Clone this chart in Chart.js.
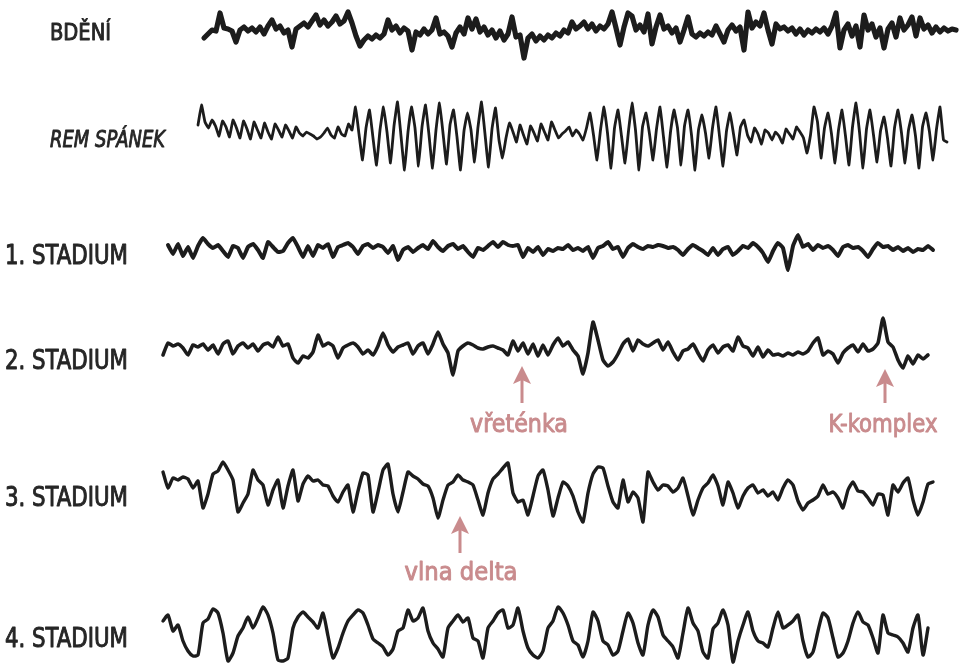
<!DOCTYPE html>
<html>
<head>
<meta charset="utf-8">
<script src="https://cdn.jsdelivr.net/npm/chart.js@4.4.1/dist/chart.umd.min.js"></script>
<style>
  html, body { margin: 0; padding: 0; background: #fff; }
  #c { display: block; }
</style>
</head>
<body>
<canvas id="c" width="961" height="665"></canvas>
<script>
// ─── Data: EEG traces, deflection from each row's baseline (up = positive) ──
const bdeniValues = [
  -6,-2,2,1,19,4, 3,1,-10,2,5,1,4,0, 5,-2,6,12,3,6,-1,2, -15,3,
  6,9,5,11,17,7,12,6,10,16,8,11,20,9, -4,-14,-8,-4,-7,-3,-6,-2,
  12,2,6,-1,4,1, -18,0,-3,3,-2, 2,14,-2,0, -4,-15,-1,
  5,-2,14,3,13,0,5,-3, 2,-6,1,-8,-2,15,-5, -3,-26,-6,
  -2,-9,-4,-8,-3,-6,-1, -4,2,-1,10,3,
  6,10,3,8,1,6, 3,8,20,4,-13,5,19,16,2,7,0,18,-12,5,17,3,
  6,-1,4,-10,2,15,-2, -5,-1,-4,0, -3,6,-2,-10,2, 7,1,5,-18,20,4,
  10,6,19,2,-12,8,3, 5,1,4,-2,3,-3,2,-1,3,0,4,-2, 6,19,-16,2,
  8,-4,6,-15,17,2,8,-5,4,-16,3, 9,-5,14,2,7,15,-4,14,3, 7,-1,5,0,4,1,3,2
];

const remValues = [
  5,25,8,2,10,4,-6,9,3,-7,10,2,-8,9,1,-9,8,0,-8,7,-2,-9,6,0,-7,5,-1,-8,3,-3,
  -6,-2,-4,-6,-9,-7,-3,2,-5,-8,3,-4,-6,6,0,
  23,-4,-30,2, 20,-8,-35,0, 23,-2,-33,4, 28,-6,-40,-2, 23,2,-36,3, 25,-5,-38,0,
  27,-3,-34,5, 20,-7,-40,-1, 17,0,-32,3, 28,-4,-37,1, 22,-10,-28,
  -8,7,-2,-12,5,-5,-14,4,-3,-11,6,-2,-10,8,0,-8,-4,-1,3,-6,0,-4,-10,2,
  17,-5,-30,0, 23,-3,-38,2, 20,-6,-33,-1, 27,0,-40,3, 17,-4,-30,1, 23,-7,-37,-2,
  20,2,-35,4, 20,-5,-40,0, 15,-3,-28,2, 23,-6,-36,-1, 17,-4,-25,
  3,10,-5,-12,2,-4,-14,0,-3,-10,-2,-6,-13,1,-4,-9,3,-2,-8,-23,-5,
  23,8,-28,2, 17,-4,-33,0, 20,-6,-35,3, 27,-2,-38,1, 20,-5,-32,-1, 13,-8,-36,2,
  20,-3,-33,0, 15,-6,-38,3, 17,-2,-30,1, 23,-10,-12
];

const stage1Values = [
  4,-5,5,-7,2,-9,3,11,5,1,4,-2,-8,3,1,-9,2,5,-1,-9,7,2,-3,-2,6,11,2,-8,3,-7,
  4,1,5,-8,2,4,6,2,-5,3,5,1,4,2,-4,3,-11,-1,2,-3,1,4,0,8,2,-2,3,5,0,3,
  -3,-8,1,-1,3,7,2,7,4,3,4,-8,1,-3,2,-6,0,-2,1,0,4,-1,1,-2,2,-9,1,3,7,0,
  2,-8,1,5,2,0,3,2,4,3,1,2,-1,-6,0,4,1,-2,-6,1,-6,0,2,-6,-2,3,1,6,2,-4,
  -13,-2,6,1,-21,3,14,2,5,-1,4,1,3,-1,-7,2,4,1,2,-2,-8,0,6,2,3,-1,2,-2,1,-3,
  0,-1,3,-1
];

const stage2Values = [
  -7,5,2,4,0,-7,3,1,4,-2,3,-6,4,7,-6,2,5,0,4,-3,3,5,1,11,2,4,-10,-15,-8,-10,
  -4,13,2,5,2,-10,0,3,5,1,-6,-2,-7,2,15,3,-4,1,3,5,-6,2,5,-6,4,16,4,-5,-27,-3,
  2,5,3,0,-1,1,2,0,-2,-7,7,-3,5,-6,4,-8,3,-7,
  3,10,2,6,-2,-8,-26,-5,26,8,-12,-18,-14,-6,4,9,-3,8,4,2,5,8,-2,6,-4,-12,-3,-1,4,-5,
  -13,-2,3,-5,1,3,-3,11,2,0,-8,1,-9,-2,-7,-6,-8,-5,-7,-4,-6,-3,5,10,-7,-3,-6,-15,-5,0,
  3,-4,4,-3,-1,5,30,6,1,-12,-20,-8,-16,-7,-11,-7
];

const stage3Values = [
  16,0,10,8,11,9,0,7,-20,-6,14,17,26,18,8,-24,-15,-6,18,8,3,-17,-2,8,-20,2,18,-13,4,12,
  7,8,3,2,-8,-14,-4,3,-24,-3,15,13,-24,-4,18,24,-6,-24,-4,16,12,9,4,2,-10,-30,-12,3,6,13,
  8,6,3,-12,-27,-5,9,14,20,25,-5,-14,-12,-27,-8,12,18,-2,
  -28,-10,6,2,-8,-24,-34,-5,14,21,20,2,-14,-20,8,-14,-4,-10,-34,16,6,-2,3,2,-4,0,10,-8,-27,-12,
  0,5,13,2,-17,6,-5,-20,-8,0,3,-5,-2,-8,-4,-12,0,8,3,-13,-22,-15,-12,-8,3,-6,-4,-10,-20,-2,
  6,-3,-4,-10,-17,-6,-7,-27,3,-4,5,10,-12,-27,-14,4,6
];

const stage4Values = [
  12,18,2,8,-8,-18,-23,-22,10,14,24,20,0,-28,-20,-3,5,16,5,15,26,18,0,-27,-28,-25,5,16,21,16,
  11,5,20,-3,-25,-15,0,12,18,23,20,8,-6,-10,-14,-22,-16,2,5,23,12,15,25,2,-10,-16,-24,5,12,18,
  11,15,-5,-8,-25,5,12,20,23,5,8,25,2,-15,-22,-25,-18,5,
  12,26,20,8,-8,-12,-24,-8,21,12,-8,-12,-22,-18,2,20,10,-10,-22,8,23,16,-2,-8,-14,-25,0,25,10,2,
  -19,-25,4,10,23,8,-29,-8,8,21,2,-8,-10,-14,5,21,5,8,12,18,-8,-24,-19,2,20,15,-5,-24,-20,-8,
  10,21,11,8,-5,-20,18,0,-2,-4,-10,-19,5,18,-22,5
];

const rowLabels = ['BDĚNÍ', 'REM SPÁNEK', '1. STADIUM', '2. STADIUM', '3. STADIUM', '4. STADIUM'];
const noteLabels = ['vřeténka', 'K-komplex', 'vlna delta'];

// ─── Layout (page pixels) ───────────────────────────────────────────────────
const INK = '#1c1c1c';
const PINK = '#c98b8d';

const rows = [
  { values: bdeniValues,  x0: 204, x1: 956, base: 32,  width: 5.2, tension: 0 },
  { values: remValues,    x0: 198, x1: 947, base: 130, width: 2.8, tension: 0.1 },
  { values: stage1Values, x0: 168, x1: 933, base: 249, width: 4.0, tension: 0.1 },
  { values: stage2Values, x0: 163, x1: 928, base: 348, width: 3.6, tension: 0.15 },
  { values: stage3Values, x0: 163, x1: 933, base: 488, width: 3.4, tension: 0.15 },
  { values: stage4Values, x0: 163, x1: 928, base: 633, width: 3.4, tension: 0.2 },
];

const labelPos = [
  { x: 50, y: 40,  size: 23, w: 61,  italic: false },
  { x: 50, y: 147, size: 23, w: 115, italic: true },
  { x: 5,  y: 264, size: 26, w: 123, italic: false },
  { x: 5,  y: 369, size: 26, w: 123, italic: false },
  { x: 5,  y: 506, size: 26, w: 123, italic: false },
  { x: 5,  y: 647, size: 26, w: 123, italic: false },
];

const notePos = [
  { cx: 519, y: 432, w: 98,  arrowX: 522, tip: 366, tail: 403 },
  { cx: 883, y: 432, w: 109, arrowX: 885, tip: 369, tail: 403 },
  { cx: 461, y: 580, w: 113, arrowX: 460, tip: 516, tail: 553 },
];

const FONT = '"Liberation Sans Narrow", "DejaVu Sans Condensed", "Open Sans", sans-serif';

const datasets = rows.map(r => {
  const step = (r.x1 - r.x0) / (r.values.length - 1);
  return {
    data: r.values.map((v, i) => ({ x: r.x0 + i * step, y: r.base - v })),
    borderColor: INK,
    borderWidth: r.width,
    tension: r.tension,
    pointRadius: 0,
    fill: false,
    borderJoinStyle: 'round',
    borderCapStyle: 'round',
  };
});

// text drawn squeezed/stretched to the measured width in the picture,
// with a hairline stroke to get the medium weight of the original lettering
function drawText(ctx, text, x, y, size, w, italic, color, center) {
  ctx.save();
  ctx.font = `${italic ? 'italic ' : ''}${size}px ${FONT}`;
  ctx.fillStyle = color;
  ctx.strokeStyle = color;
  ctx.lineWidth = 0.9;
  ctx.lineJoin = 'round';
  ctx.textBaseline = 'alphabetic';
  const m = ctx.measureText(text).width;
  const left = center ? x - w / 2 : x;
  ctx.translate(left, y);
  ctx.scale(w / m, 1);
  ctx.fillText(text, 0, 0);
  ctx.strokeText(text, 0, 0);
  ctx.restore();
}

const textPlugin = {
  id: 'eegText',
  afterDraw(chart) {
    const { ctx, scales: { x, y } } = chart;
    rowLabels.forEach((t, i) => {
      const p = labelPos[i];
      drawText(ctx, t, x.getPixelForValue(p.x), y.getPixelForValue(p.y), p.size, p.w, p.italic, '#262626', false);
    });
    noteLabels.forEach((t, i) => {
      const p = notePos[i];
      drawText(ctx, t, x.getPixelForValue(p.cx), y.getPixelForValue(p.y), 25, p.w, false, PINK, true);
      const ax = x.getPixelForValue(p.arrowX);
      const tip = y.getPixelForValue(p.tip);
      const tail = y.getPixelForValue(p.tail);
      ctx.save();
      ctx.strokeStyle = PINK;
      ctx.fillStyle = PINK;
      ctx.lineWidth = 3;
      ctx.beginPath();
      ctx.moveTo(ax, tip + 12);
      ctx.lineTo(ax, tail);
      ctx.stroke();
      ctx.beginPath();
      ctx.moveTo(ax, tip);
      ctx.lineTo(ax - 9, tip + 18);
      ctx.lineTo(ax, tip + 14);
      ctx.lineTo(ax + 9, tip + 18);
      ctx.closePath();
      ctx.fill();
      ctx.restore();
    });
  }
};

new Chart(document.getElementById('c'), {
  type: 'line',
  data: { datasets },
  options: {
    responsive: false,
    animation: false,
    devicePixelRatio: 1,
    layout: { padding: 0 },
    plugins: { legend: { display: false }, tooltip: { enabled: false } },
    scales: {
      x: { type: 'linear', display: false, min: 0, max: 961 },
      y: { type: 'linear', display: false, min: 0, max: 665, reverse: true },
    },
  },
  plugins: [textPlugin],
});
</script>
</body>
</html>
